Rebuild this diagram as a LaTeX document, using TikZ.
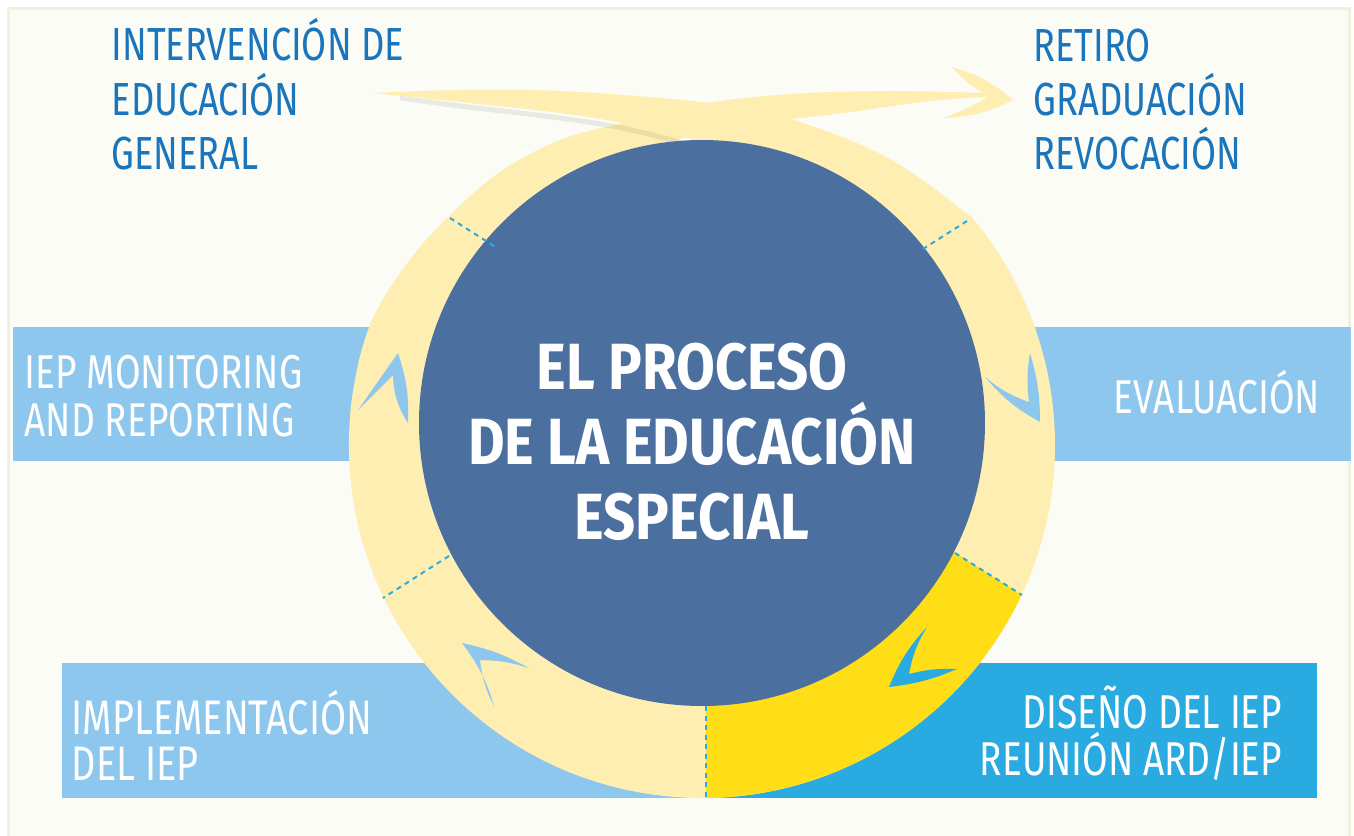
\documentclass[tikz,border=0pt]{standalone}
\usepackage{fontspec}
\setmainfont{Fira Sans}[FakeStretch=0.78]
\newfontfamily\titlefont{Fira Sans}[FakeStretch=0.86]

\definecolor{panelbg}{HTML}{FBFCF6}
\definecolor{panelrim}{HTML}{EEF2DC}
\definecolor{bandlight}{HTML}{8DC7ED}
\definecolor{banddark}{HTML}{29AAE1}
\definecolor{ringyellow}{HTML}{FEEEB2}
\definecolor{stepyellow}{HTML}{FFDE17}
\definecolor{coreblue}{HTML}{4B6F9E}
\definecolor{textblue}{HTML}{1B75BC}
\definecolor{dashblue}{HTML}{29ABE2}

\begin{document}
\begin{tikzpicture}[x=0.1mm, y=0.1mm,
    band/.style={fill=bandlight},
    ringpart/.style={fill=ringyellow},
    divider/.style={dashblue, line width=0.2mm, dash pattern=on 0.5mm off 0.45mm},
    chevron/.style={fill=bandlight},
    outer label/.style={text=textblue, font=\fontsize{13.2}{15.4}\selectfont, align=left, inner sep=0},
    band label/.style={text=white, font=\fontsize{13.5}{13.5}\selectfont, inner sep=0},
  ]
  \useasboundingbox (0,0) rectangle (1354,835);
  % background panel
  \fill[white] (0,0) rectangle (1354,835);
  \filldraw[fill=panelbg, draw=panelrim, line width=0.3mm] (8.5,-10) rectangle (1349.5,826.5);

  % bands behind the ring
  \fill[band] (13,374) rectangle (420,508);
  \fill[band] (1000,374) rectangle (1351,508);
  \fill[band] (62,37) rectangle (706,172);
  \fill[banddark] (706,37) rectangle (1317,172);

  % the ring, lower part
  \fill[ringpart] (702,390) -- ++(170:353) arc[start angle=170, end angle=400, radius=353] -- cycle;

  % way out (left side, over the top to the right)
  \fill[ringpart] (500,450) -- plot[smooth, tension=0.55] coordinates {(354.4,328.7) (350.3,420.8) (370.3,510.7) (420,588) (493,658)
      (560,695) (627,713) (700,731) (790,741) (890,744) (983,742)}
    to[bend left=8] (952,768) to[bend left=12] (1013,735) to[bend left=12] (943,717) to[bend right=5] (988,738)
    to[out=182, in=5] (790,716) to[out=185, in=22] (665,690) -- (600,600) -- cycle;

  % soft shadow under the way in
  \draw[black, opacity=0.07, line width=0.5mm] plot[smooth, tension=0.6] coordinates {(400,737) (460,729) (560,717) (627,706) (690,690)};

  % way in (from the left, into the right side)
  \fill[ringpart]
    plot[smooth, tension=0.6] coordinates {(373,742) (460,745) (560,744) (700,733) (790,716) (890,676) (972,617)}
    arc[start angle=40, end angle=20, radius=353] -- (850,500) -- (720,640)
    -- plot[smooth, tension=0.6] coordinates {(700,694) (627,711) (560,722) (460,733) (373,742)} -- cycle;

  % current step
  \fill[stepyellow] (706,412) -- (706,37) arc[start angle=270.65, end angle=334.9, radius=353] -- (955,282) -- cycle;

  % centre
  \fill[coreblue] (702,412) circle[radius=283];

  % step borders
  \draw[divider] (450,617) -- (497,587);
  \draw[divider] (967,614) -- (923,586);
  \draw[divider] (955,282) -- (1022,240);
  \draw[divider] (449,279) -- (383,237);
  \draw[divider] (706,129) -- (706,38);

  % chevrons
  \fill[chevron] (398,482) -- (358,425) -- (393,460) to[bend right=15] (408,412) to[bend right=10] cycle;
  \fill[chevron] (1040,413) to[bend left=10] (985,458) to[bend right=10] (1029,433) to[bend left=8] (1030,482) to[bend left=8] cycle;
  \fill[banddark] (889,148) to[bend left=10] (927,208) to[bend right=10] (909,161) to[bend left=8] (957,166) to[bend left=8] cycle;
  \fill[chevron] (462,192) to[bend left=8] (529,167) to[bend right=8] (480,175) to[bend right=10] (494,129) to[bend right=10] cycle;

  % labels
  \node (title) [text=white, font=\titlefont\bfseries\fontsize{18.6}{21.3}\selectfont, align=center] at (692,393)
    {EL PROCESO\\DE LA EDUCACIÓN\\ESPECIAL};
  \node (entry) [outer label, anchor=north west] at (111,817) {INTERVENCIÓN DE\\EDUCACIÓN\\GENERAL};
  \node (exit) [outer label, anchor=north west] at (1033,807) {RETIRO\\GRADUACIÓN\\REVOCACIÓN};
  \node (monitor) [band label, align=left, anchor=north west] at (24,480) {IEP MONITORING\\AND REPORTING};
  \node (eval) [band label, anchor=base] at (1217,422) {EVALUACIÓN};
  \node (impl) [band label, font=\fontsize{13.8}{13}\selectfont, align=left, anchor=north west] at (71,145) {IMPLEMENTACIÓN\\DEL IEP};
  \node (design) [band label, align=right, anchor=north east] at (1283,150) {DISEÑO DEL IEP\\REUNIÓN ARD/IEP};
\end{tikzpicture}
\end{document}
